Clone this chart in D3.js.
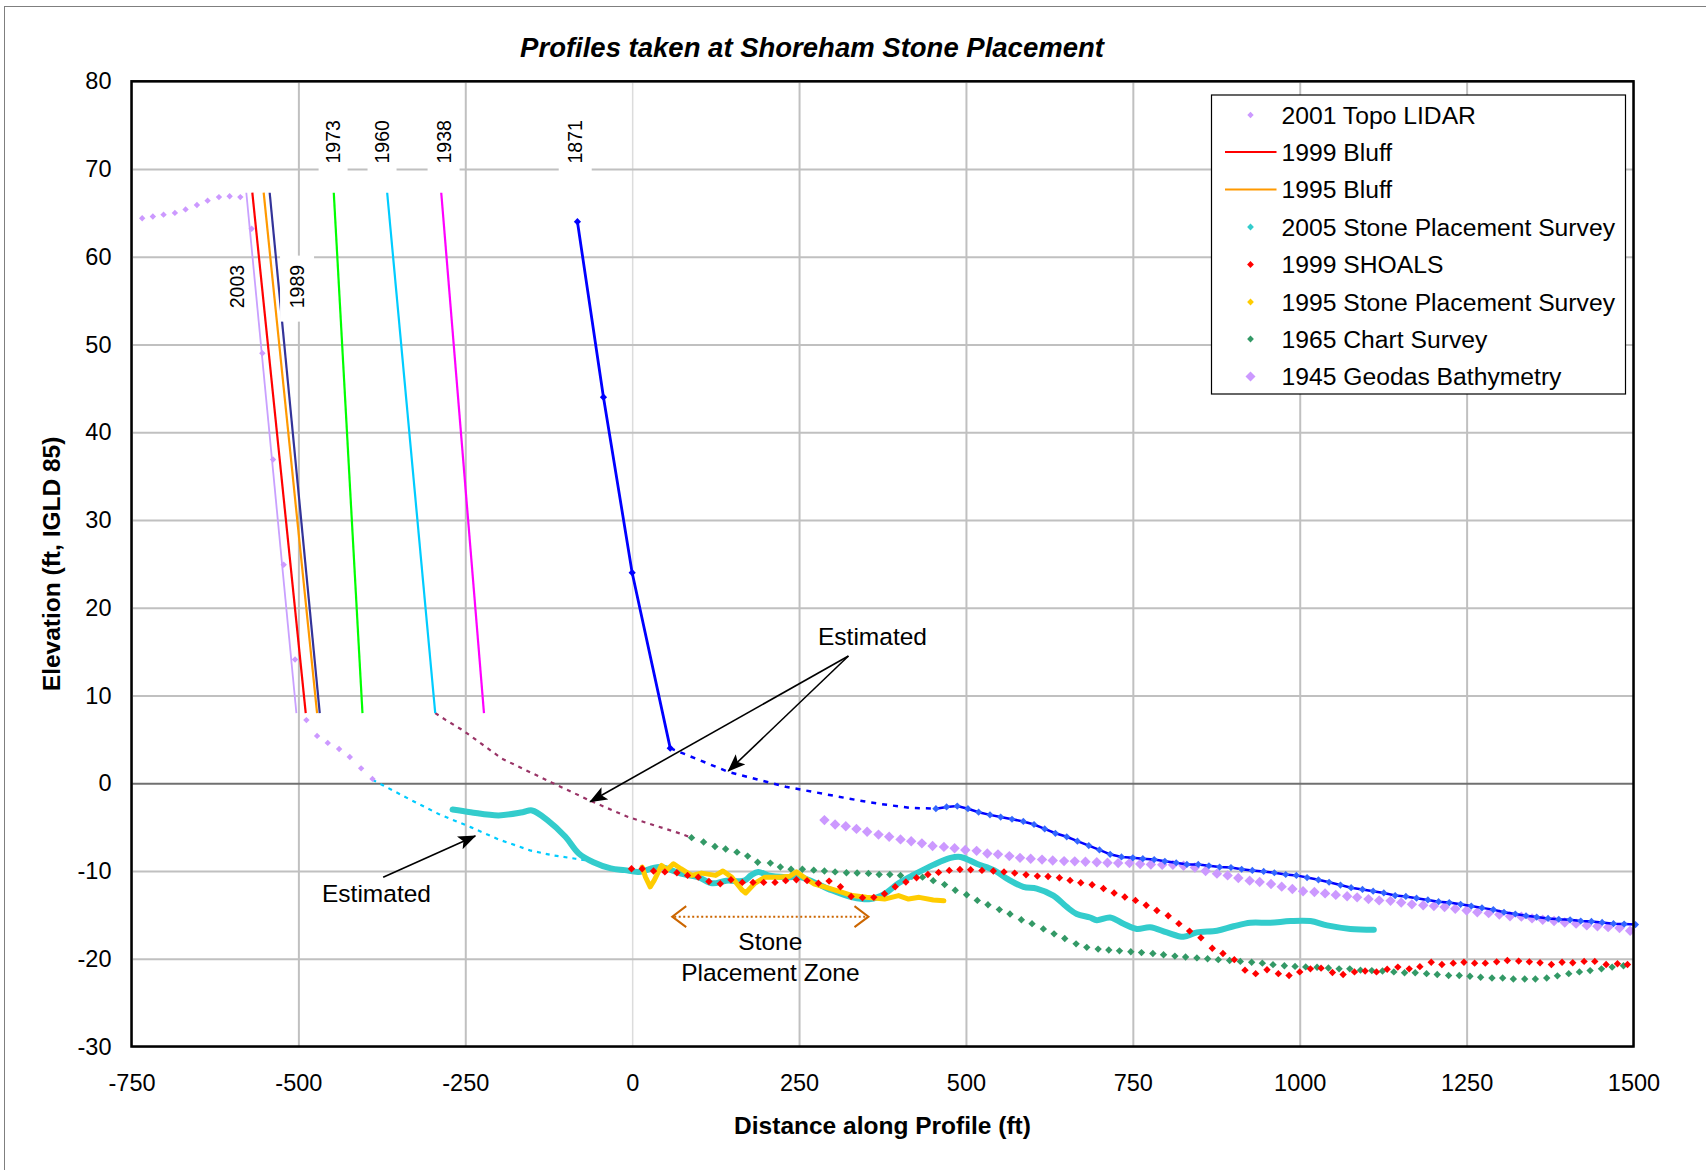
<!DOCTYPE html>
<html>
<head>
<meta charset="utf-8">
<script src="https://cdn.jsdelivr.net/npm/d3@7"></script>
<style>
  html, body { margin: 0; padding: 0; background: #ffffff; }
  svg { display: block; font-family: "Liberation Sans", Arial, sans-serif; }
</style>
</head>
<body>
<script>
// ---------------- DATA ----------------
const chartTitle = "Profiles taken at Shoreham Stone Placement";
const xTitle = "Distance along Profile (ft)";
const yTitle = "Elevation (ft, IGLD 85)";
const xTicks = [-750, -500, -250, 0, 250, 500, 750, 1000, 1250, 1500];
const yTicks = [-30, -20, -10, 0, 10, 20, 30, 40, 50, 60, 70, 80];

// Bluff faces (straight lines from top to toe)
const bluffYears   = ["2003", "1999", "1995", "1989", "1973", "1960", "1938"];
const bluffTopX    = [-578, -569, -552, -543, -447, -367, -286];
const bluffToeX    = [-503, -489, -472, -468, -404, -295, -222];
const bluffTopY    = 67.3;
const bluffToeY    = 8;

// 1871 bluff (with markers)
const bluff1871 = [[-82, 64], [-43, 44], [0, 24], [57, 4]];

// Estimated (dashed) connections
const est1960  = [[-389, 0.4], [-334, -1.8], [-290, -3.5], [-242, -5.0], [-200, -6.4], [-153, -7.65], [-120, -8.2], [-85, -8.6], [-60, -8.9]];
const est1938  = [[-295, 8], [-279, 7.2], [-253, 6.0], [-195, 2.8], [-121, 0.1], [-64, -1.95], [-6, -3.85], [73, -5.75], [88, -6.2]];
const est1871  = [[57, 4], [144, 1.3], [230, -0.4], [339, -1.95], [371, -2.35], [416, -2.8], [455, -2.9]];

// 2001 Topo LIDAR
const lidar2001 = [[-734, 64.4], [-718, 64.6], [-702, 64.8], [-685, 65.0], [-669, 65.4], [-652, 65.9], [-636, 66.4], [-619, 66.8], [-603, 66.9], [-587, 66.8],
  [-570, 63.2], [-554, 49.0], [-538, 36.9], [-522, 24.9], [-505, 14.1], [-488, 7.2], [-472, 5.4], [-456, 4.6], [-439, 3.9], [-423, 3.0], [-406, 1.7], [-389, 0.5]];

// 1871 offshore profile
const off1871 = [[455, -2.9], [471, -2.7], [487, -2.6], [503, -2.9], [519, -3.3], [536, -3.6], [552, -3.85], [569, -4.1], [586, -4.35], [602, -4.7],
  [618, -5.2], [634, -5.7], [651, -6.1], [667, -6.6], [684, -7.1], [700, -7.6], [716, -8.1], [733, -8.4], [750, -8.5], [765, -8.6],
  [782, -8.7], [798, -8.9], [815, -9.06], [831, -9.25], [848, -9.25], [864, -9.4], [880, -9.55], [897, -9.6], [913, -9.8], [929, -9.93],
  [946, -10.05], [962, -10.2], [979, -10.4], [995, -10.5], [1011, -10.75], [1028, -11.0], [1044, -11.28], [1061, -11.6], [1077, -11.9], [1094, -12.1],
  [1110, -12.3], [1126, -12.5], [1143, -12.8], [1159, -12.9], [1175, -13.1], [1192, -13.3], [1208, -13.5], [1224, -13.6], [1241, -13.8], [1257, -14.0],
  [1273, -14.2], [1290, -14.4], [1306, -14.7], [1323, -14.9], [1339, -15.1], [1355, -15.25], [1372, -15.4], [1388, -15.5], [1405, -15.56], [1421, -15.7],
  [1437, -15.75], [1453, -15.86], [1470, -16.0], [1486, -16.05], [1503, -16.1]];

// 1945 Geodas Bathymetry
const geodas1945 = [[288, -4.2], [304, -4.7], [320, -4.9], [336, -5.2], [352, -5.53], [369, -5.85], [385, -6.1], [402, -6.4], [418, -6.6], [434, -6.85],
  [450, -7.15], [467, -7.25], [483, -7.4], [499, -7.6], [516, -7.7], [532, -8.0], [548, -8.1], [565, -8.3], [581, -8.5], [597, -8.6],
  [614, -8.7], [630, -8.8], [647, -8.87], [663, -8.9], [679, -8.95], [696, -9.0], [712, -9.06], [728, -9.1], [745, -9.1], [761, -9.2],
  [777, -9.25], [794, -9.3], [810, -9.3], [826, -9.4], [843, -9.6], [859, -10.0], [876, -10.3], [892, -10.5], [908, -10.8], [925, -11.1],
  [940, -11.25], [957, -11.48], [973, -11.78], [989, -12.05], [1005, -12.3], [1022, -12.4], [1038, -12.55], [1054, -12.72], [1071, -12.87], [1086, -13.0],
  [1103, -13.2], [1119, -13.35], [1136, -13.4], [1152, -13.6], [1168, -13.8], [1185, -13.9], [1201, -14.0], [1217, -14.1], [1233, -14.3], [1250, -14.5],
  [1266, -14.7], [1283, -14.8], [1299, -14.95], [1315, -15.15], [1332, -15.2], [1348, -15.4], [1364, -15.56], [1381, -15.7], [1397, -15.86], [1414, -16.0],
  [1430, -16.2], [1446, -16.3], [1462, -16.4], [1479, -16.5], [1495, -16.8]];

// 1965 Chart Survey
const chart1965 = [[89, -6.2], [107, -6.7], [124, -7.2], [140, -7.5], [157, -7.85], [173, -8.3], [188, -9.0], [207, -9.1], [222, -9.55], [238, -9.8],
  [255, -9.8], [272, -9.9], [288, -10.0], [304, -10.1], [321, -10.2], [337, -10.22], [354, -10.27], [370, -10.4], [386, -10.4], [402, -10.52],
  [419, -10.6], [435, -10.7], [451, -11.1], [468, -11.55], [484, -12.2], [501, -12.7], [517, -13.35], [533, -13.85], [550, -14.4], [566, -14.9],
  [583, -15.56], [599, -16.0], [616, -16.6], [632, -17.16], [648, -17.7], [665, -18.3], [681, -18.7], [698, -18.9], [714, -19.0], [730, -19.1],
  [747, -19.2], [763, -19.3], [780, -19.4], [796, -19.55], [813, -19.7], [829, -19.8], [846, -19.9], [862, -20.0], [878, -20.1], [895, -20.2],
  [911, -20.3], [928, -20.4], [944, -20.5], [960, -20.67], [977, -20.8], [993, -20.87], [1009, -20.93], [1026, -20.97], [1043, -21.05], [1059, -21.15],
  [1075, -21.15], [1091, -21.3], [1108, -21.35], [1124, -21.4], [1141, -21.5], [1157, -21.6], [1173, -21.6], [1190, -21.7], [1206, -21.8], [1223, -21.9],
  [1239, -21.9], [1255, -22.0], [1271, -22.1], [1288, -22.2], [1304, -22.2], [1320, -22.3], [1337, -22.3], [1353, -22.3], [1370, -22.2], [1386, -21.95],
  [1403, -21.7], [1419, -21.5], [1435, -21.35], [1452, -21.15], [1468, -20.95], [1485, -20.8]];

// 2005 Stone Placement Survey
const stone2005 = [[-269, -3.0], [-242, -3.3], [-200, -3.66], [-164, -3.3], [-150, -3.1], [-127, -4.2], [-100, -6.1], [-80, -8.0], [-58, -9.0], [-32, -9.7],
  [-11, -9.9], [10, -10.1], [41, -9.55], [73, -10.3], [99, -10.7], [120, -11.4], [141, -11.1], [168, -11.1], [178, -10.5], [189, -10.1],
  [204, -10.5], [231, -10.7], [252, -10.7], [273, -11.3], [299, -12.2], [330, -13.0], [357, -13.2], [378, -12.6], [399, -11.4], [425, -10.3],
  [451, -9.3], [477, -8.5], [492, -8.4], [517, -9.2], [542, -9.9], [562, -10.9], [586, -11.8], [606, -12.0], [631, -12.8], [651, -14.1],
  [666, -14.9], [686, -15.3], [696, -15.6], [716, -15.3], [736, -16.0], [756, -16.6], [776, -16.4], [801, -17.0], [826, -17.5], [846, -17.0],
  [876, -16.8], [901, -16.3], [926, -15.9], [956, -15.9], [986, -15.7], [1016, -15.7], [1041, -16.2], [1076, -16.6], [1111, -16.7]];

// 1995 Stone Placement Survey
const stone1995 = [[15, -9.55], [20, -10.7], [27, -11.8], [33, -11.07], [44, -9.36], [52, -9.86], [62, -9.17], [73, -9.74], [89, -10.5], [104, -10.24],
  [125, -10.5], [136, -10.0], [149, -10.7], [165, -12.2], [170, -12.5], [183, -11.45], [199, -10.7], [220, -10.7], [236, -10.6], [246, -10.1],
  [257, -10.7], [272, -11.45], [288, -11.8], [309, -12.3], [330, -12.8], [351, -13.0], [378, -13.2], [399, -12.8], [414, -13.2], [430, -13.0],
  [451, -13.3], [467, -13.4]];

// 1999 SHOALS
const shoals1999 = [[-1, -9.74], [15, -9.74], [32, -10.0], [49, -10.1], [67, -10.2], [83, -10.5], [99, -10.7], [115, -11.2], [132, -11.45], [148, -11.0],
  [165, -11.3], [181, -11.3], [197, -11.3], [214, -11.3], [230, -11.1], [246, -11.0], [262, -11.1], [279, -11.4], [295, -11.15], [312, -11.8],
  [328, -12.9], [345, -13.05], [362, -13.0], [378, -12.6], [394, -11.8], [410, -11.26], [426, -10.77], [443, -10.39], [459, -10.16], [475, -9.93],
  [491, -9.82], [507, -9.86], [524, -9.93], [541, -10.0], [557, -10.1], [573, -10.24], [590, -10.43], [607, -10.58], [623, -10.62], [640, -10.77],
  [656, -11.07], [672, -11.34], [689, -11.57], [706, -12.0], [722, -12.5], [738, -12.97], [754, -13.35], [770, -13.9], [786, -14.5], [803, -15.1],
  [819, -16.0], [835, -16.85], [852, -17.6], [869, -18.8], [885, -19.4], [902, -20.1], [918, -21.3], [934, -21.7], [951, -21.26], [968, -21.7],
  [984, -21.9], [1000, -21.5], [1016, -21.15], [1032, -21.07], [1049, -21.56], [1065, -21.8], [1082, -21.5], [1098, -21.4], [1115, -21.5], [1131, -21.2],
  [1147, -20.95], [1164, -21.15], [1180, -20.9], [1197, -20.4], [1213, -20.65], [1230, -20.5], [1246, -20.4], [1262, -20.5], [1278, -20.5], [1295, -20.35],
  [1311, -20.2], [1328, -20.27], [1344, -20.35], [1360, -20.46], [1377, -20.65], [1393, -20.4], [1409, -20.46], [1426, -20.3], [1442, -20.3], [1459, -20.65],
  [1476, -20.57], [1491, -20.65]];

const legendLabels = ["2001 Topo LIDAR", "1999 Bluff", "1995 Bluff", "2005 Stone Placement Survey", "1999 SHOALS",
  "1995 Stone Placement Survey", "1965 Chart Survey", "1945 Geodas Bathymetry"];

// ---------------- RENDER ----------------
const W = 1706, H = 1170;
const L = 131.5, R = 1633.5, T = 81.3, B = 1046.5;
const FONT = "'Liberation Sans', Arial, sans-serif";

const svg = d3.select("body").append("svg").attr("width", W).attr("height", H);
svg.append("rect").attr("width", W).attr("height", H).attr("fill", "#fff");
// outer chart border (only top & left visible)
svg.append("rect").attr("x", 4.5).attr("y", 6.5).attr("width", W + 20).attr("height", H + 20)
  .attr("fill", "none").attr("stroke", "#7f7f7f").attr("stroke-width", 1);

const x = d3.scaleLinear().domain([-750, 1500]).range([L, R]);
const y = d3.scaleLinear().domain([-30, 80]).range([B, T]);
const fmt = (d) => String(d);

// Custom square diamond symbol (Excel style)
const sqDiamond = { draw(ctx, size) { const r = Math.sqrt(size / 2); ctx.moveTo(0, -r); ctx.lineTo(r, 0); ctx.lineTo(0, r); ctx.lineTo(-r, 0); ctx.closePath(); } };
const diamond = (r) => d3.symbol().type(sqDiamond).size(2 * r * r)();

// Gridlines via axes
const gx = svg.append("g").attr("transform", `translate(0,${B})`)
  .call(d3.axisBottom(x).tickValues(xTicks).tickSize(-(B - T)).tickFormat(""));
gx.select(".domain").remove();
gx.selectAll("line").attr("stroke", (d) => d === 0 ? "#dcdcdc" : "#c0c0c0").attr("stroke-width", (d) => d === 0 ? 1.5 : 2);

const gy = svg.append("g").attr("transform", `translate(${L},0)`)
  .call(d3.axisLeft(y).tickValues(yTicks).tickSize(-(R - L)).tickFormat(""));
gy.select(".domain").remove();
gy.selectAll("line").attr("stroke", (d) => d === 0 ? "#707070" : "#c0c0c0").attr("stroke-width", 2);

// tick labels
const ax = svg.append("g").attr("transform", `translate(0,${B})`)
  .call(d3.axisBottom(x).tickValues(xTicks).tickFormat(fmt).tickSize(0).tickPadding(28));
ax.select(".domain").remove();
ax.selectAll("text").attr("font-family", FONT).attr("font-size", "23.5px").attr("fill", "#000");

const ay = svg.append("g").attr("transform", `translate(${L},0)`)
  .call(d3.axisLeft(y).tickValues(yTicks).tickFormat(fmt).tickSize(0).tickPadding(20));
ay.select(".domain").remove();
ay.selectAll("text").attr("font-family", FONT).attr("font-size", "23.5px").attr("fill", "#000");

const line = d3.line().x((d) => x(d[0])).y((d) => y(d[1]));

// Estimated dashed lines
svg.append("path").attr("d", line(est1960)).attr("fill", "none").attr("stroke", "#00ccff").attr("stroke-width", 2.2).attr("stroke-dasharray", "4,5");
svg.append("path").attr("d", line(est1938)).attr("fill", "none").attr("stroke", "#993366").attr("stroke-width", 2.2).attr("stroke-dasharray", "4,5");
svg.append("path").attr("d", line(est1871)).attr("fill", "none").attr("stroke", "#0000ff").attr("stroke-width", 2.5).attr("stroke-dasharray", "5,6");

// Bluff face lines
const bluffColors = ["#c9a0ff", "#ff0000", "#ff9900", "#333399", "#00ff00", "#00ccff", "#ff00ff"];
const bluffWidths = [1.8, 2.2, 2.2, 2.2, 2.2, 2.2, 2.2];
bluffYears.forEach((yr, i) => {
  svg.append("path").attr("d", line([[bluffTopX[i], bluffTopY], [bluffToeX[i], bluffToeY]]))
    .attr("fill", "none").attr("stroke", bluffColors[i]).attr("stroke-width", bluffWidths[i]);
});

// 2001 LIDAR points
svg.append("g").selectAll("path").data(lidar2001).join("path")
  .attr("d", diamond(3.2)).attr("transform", (d) => `translate(${x(d[0])},${y(d[1])})`).attr("fill", "#cc99ff");

// 1871 bluff
svg.append("path").attr("d", line(bluff1871)).attr("fill", "none").attr("stroke", "#0000ff").attr("stroke-width", 2.8);
svg.append("g").selectAll("path").data(bluff1871).join("path")
  .attr("d", diamond(3.6)).attr("transform", (d) => `translate(${x(d[0])},${y(d[1])})`).attr("fill", "#0000ff");

// 1945 Geodas
svg.append("g").selectAll("path").data(geodas1945).join("path")
  .attr("d", diamond(5.2)).attr("transform", (d) => `translate(${x(d[0])},${y(d[1])})`).attr("fill", "#cc99ff");

// 1871 offshore
svg.append("path").attr("d", line(off1871)).attr("fill", "none").attr("stroke", "#0000ff").attr("stroke-width", 2.5);
svg.append("g").selectAll("path").data(off1871).join("path")
  .attr("d", diamond(3.6)).attr("transform", (d) => `translate(${x(d[0])},${y(d[1])})`).attr("fill", "#3366ff");

// 1965 Chart Survey
svg.append("g").selectAll("path").data(chart1965).join("path")
  .attr("d", diamond(3.7)).attr("transform", (d) => `translate(${x(d[0])},${y(d[1])})`).attr("fill", "#339966");

// 2005 Stone Placement Survey (dense markers -> thick line)
const smooth = d3.line().x((d) => x(d[0])).y((d) => y(d[1])).curve(d3.curveCatmullRom.alpha(0.5));
svg.append("path").attr("d", smooth(stone2005)).attr("fill", "none").attr("stroke", "#33cccc")
  .attr("stroke-width", 6).attr("stroke-linejoin", "round").attr("stroke-linecap", "round");

// 1995 Stone Placement Survey
svg.append("path").attr("d", line(stone1995)).attr("fill", "none").attr("stroke", "#ffcc00")
  .attr("stroke-width", 5).attr("stroke-linejoin", "round").attr("stroke-linecap", "round");

// 1999 SHOALS
svg.append("g").selectAll("path").data(shoals1999).join("path")
  .attr("d", diamond(3.7)).attr("transform", (d) => `translate(${x(d[0])},${y(d[1])})`).attr("fill", "#ff0000");

// Plot border
svg.append("rect").attr("x", L).attr("y", T).attr("width", R - L).attr("height", B - T)
  .attr("fill", "none").attr("stroke", "#000").attr("stroke-width", 2.5);

// Year labels with white boxes
const yearLabels = [
  { t: "2003", x: -592, y: 56.6, box: false },
  { t: "1989", x: -502, y: 56.6, box: true, bw: 34, bh: 66 },
  { t: "1973", x: -448, y: 73.1, box: true, bw: 29, bh: 66 },
  { t: "1960", x: -374.7, y: 73.1, box: true, bw: 29, bh: 66 },
  { t: "1938", x: -282.5, y: 73.1, box: true, bw: 32, bh: 66 },
  { t: "1871", x: -85.3, y: 73.1, box: true, bw: 33, bh: 66 }
];
yearLabels.forEach((lb) => {
  const cx = x(lb.x), cy = y(lb.y);
  if (lb.box) {
    svg.append("rect").attr("x", cx - lb.bw / 2).attr("y", cy - lb.bh / 2 + 2).attr("width", lb.bw).attr("height", lb.bh).attr("fill", "#fff");
  }
  svg.append("text").attr("transform", `translate(${cx},${cy}) rotate(-90)`)
    .attr("text-anchor", "middle").attr("dominant-baseline", "central")
    .attr("font-family", FONT).attr("font-size", "19.5px").attr("fill", "#000").text(lb.t);
});

// Annotation arrows
const defs = svg.append("defs");
defs.append("marker").attr("id", "arrow").attr("viewBox", "0 -7 18 14").attr("refX", 17).attr("refY", 0)
  .attr("markerWidth", 18).attr("markerHeight", 14).attr("markerUnits", "userSpaceOnUse").attr("orient", "auto")
  .append("path").attr("d", "M0,-7 L18,0 L0,7 L4,0 Z").attr("fill", "#000");

const arrows = [
  [[324, 14.5], [-63, -2.1]],
  [[324, 14.5], [144, 1.4]],
  [[-373, -10.7], [-235, -6.0]]
];
arrows.forEach((a) => {
  svg.append("line").attr("x1", x(a[0][0])).attr("y1", y(a[0][1])).attr("x2", x(a[1][0])).attr("y2", y(a[1][1]))
    .attr("stroke", "#000").attr("stroke-width", 1.6).attr("marker-end", "url(#arrow)");
});

const annot = (t, xv, yv) => svg.append("text").attr("x", x(xv)).attr("y", y(yv)).attr("text-anchor", "middle")
  .attr("font-family", FONT).attr("font-size", "24.5px").attr("fill", "#000").text(t);
annot("Estimated", 360, 15.8);
annot("Estimated", -383, -13.5);
annot("Stone", 207, -18.95);
annot("Placement Zone", 207, -22.55);

// Stone placement zone double chevron
const zy = y(-15.2), zx1 = x(60), zx2 = x(354);
svg.append("line").attr("x1", zx1 + 2).attr("x2", zx2 - 2).attr("y1", zy).attr("y2", zy)
  .attr("stroke", "#cc6600").attr("stroke-width", 2).attr("stroke-dasharray", "2,2.5");
svg.append("path").attr("d", `M${zx1 + 14},${zy - 10.5} L${zx1},${zy} L${zx1 + 14},${zy + 10.5}`)
  .attr("fill", "none").attr("stroke", "#cc6600").attr("stroke-width", 2);
svg.append("path").attr("d", `M${zx2 - 14},${zy - 10.5} L${zx2},${zy} L${zx2 - 14},${zy + 10.5}`)
  .attr("fill", "none").attr("stroke", "#cc6600").attr("stroke-width", 2);

// Legend
const lg = svg.append("g");
lg.append("rect").attr("x", 1211.5).attr("y", 95).attr("width", 414).attr("height", 299)
  .attr("fill", "#fff").attr("stroke", "#000").attr("stroke-width", 1.2);
const legendRowsY = [115, 152, 189.5, 227, 264.5, 302, 339, 376.5];
const legendKinds = [
  { k: "pt", c: "#cc99ff", r: 3.2 }, { k: "ln", c: "#ff0000" }, { k: "ln", c: "#ff9900" },
  { k: "pt", c: "#33cccc", r: 3.4 }, { k: "pt", c: "#ff0000", r: 3.4 }, { k: "pt", c: "#ffcc00", r: 3.4 },
  { k: "pt", c: "#339966", r: 3.4 }, { k: "pt", c: "#cc99ff", r: 5 }
];
legendLabels.forEach((lab, i) => {
  const cy = legendRowsY[i], kd = legendKinds[i];
  if (kd.k === "ln") {
    lg.append("line").attr("x1", 1225).attr("x2", 1276.5).attr("y1", cy).attr("y2", cy).attr("stroke", kd.c).attr("stroke-width", 2.2);
  } else {
    lg.append("path").attr("d", diamond(kd.r)).attr("transform", `translate(1250.5,${cy})`).attr("fill", kd.c);
  }
  lg.append("text").attr("x", 1281.5).attr("y", cy).attr("dy", "0.35em")
    .attr("font-family", FONT).attr("font-size", "24.7px").attr("fill", "#000").text(lab);
});

// Titles
svg.append("text").attr("x", 812).attr("y", 56.5).attr("text-anchor", "middle")
  .attr("font-family", FONT).attr("font-size", "27.5px").attr("font-weight", "bold").attr("font-style", "italic")
  .attr("fill", "#000").text(chartTitle);
svg.append("text").attr("x", (L + R) / 2).attr("y", 1133.5).attr("text-anchor", "middle")
  .attr("font-family", FONT).attr("font-size", "24.5px").attr("font-weight", "bold").attr("fill", "#000").text(xTitle);
svg.append("text").attr("transform", `translate(51,${(T + B) / 2}) rotate(-90)`).attr("text-anchor", "middle")
  .attr("dominant-baseline", "central")
  .attr("font-family", FONT).attr("font-size", "24.5px").attr("font-weight", "bold").attr("fill", "#000").text(yTitle);
</script>
</body>
</html>
